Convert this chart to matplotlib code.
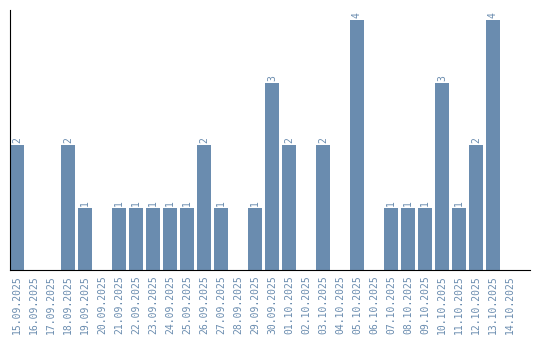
import matplotlib
matplotlib.use("Agg")
import matplotlib.pyplot as plt
import numpy as np

dates = ["15.09.2025", "16.09.2025", "17.09.2025", "18.09.2025", "19.09.2025",
         "20.09.2025", "21.09.2025", "22.09.2025", "23.09.2025", "24.09.2025",
         "25.09.2025", "26.09.2025", "27.09.2025", "28.09.2025", "29.09.2025",
         "30.09.2025", "01.10.2025", "02.10.2025", "03.10.2025", "04.10.2025",
         "05.10.2025", "06.10.2025", "07.10.2025", "08.10.2025", "09.10.2025",
         "10.10.2025", "11.10.2025", "12.10.2025", "13.10.2025", "14.10.2025"]
counts = [2, 0, 0, 2, 1, 0, 1, 1, 1, 1, 1, 2, 1, 0, 1, 3, 2, 0, 2, 0,
          4, 0, 1, 1, 1, 3, 1, 2, 4, 0]

col = "#6a8caf"
plt.rcParams["font.family"] = "DejaVu Sans Mono"

fig = plt.figure(figsize=(5.4, 3.4), dpi=100)
ax = fig.add_axes([10/540, 70/340, 520/540, 260/340])

x = np.arange(len(dates))
ax.bar(x, counts, width=0.82, color=col)
for xi, v in zip(x, counts):
    if v > 0:
        ax.text(xi, v + 0.03, str(v), rotation=90, ha="center", va="bottom",
                fontsize=7, color=col)

ax.set_xlim(-0.41, 30.18)
ax.set_ylim(0, 4.16)
ax.set_xticks(x)
ax.set_xticklabels(dates, rotation=90, fontsize=7, color=col)
ax.tick_params(axis="x", length=0, pad=4)
ax.set_yticks([])
ax.spines["top"].set_visible(False)
ax.spines["right"].set_visible(False)

fig.savefig("out.png", dpi=100)
